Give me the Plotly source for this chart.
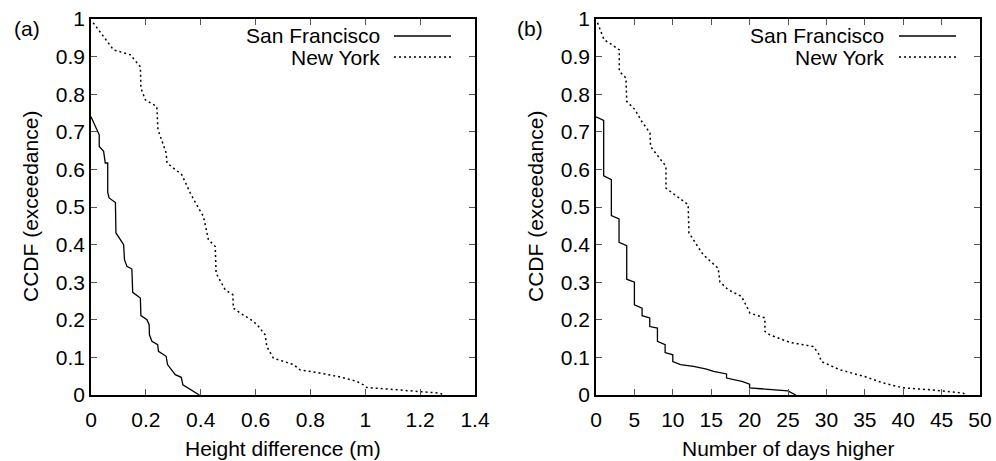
import plotly.graph_objects as go

# ---- data ----
# (a) Height difference (m)
sf_height_x = [0.0, 0.030, 0.030, 0.046, 0.052, 0.061, 0.061, 0.066, 0.089, 0.091, 0.107, 0.119,
               0.122, 0.131, 0.149, 0.152, 0.180, 0.182, 0.204, 0.212, 0.213, 0.222, 0.243, 0.246,
               0.274, 0.279, 0.307, 0.329, 0.335, 0.362, 0.395]
sf_height_y = [0.740, 0.692, 0.661, 0.648, 0.617, 0.617, 0.539, 0.524, 0.512, 0.431, 0.413, 0.400,
               0.360, 0.342, 0.335, 0.273, 0.258, 0.211, 0.200, 0.187, 0.160, 0.143, 0.134, 0.116,
               0.103, 0.081, 0.054, 0.047, 0.027, 0.014, 0.0]
ny_height_x = [0.008, 0.082, 0.143, 0.180, 0.182, 0.198, 0.240, 0.244, 0.274, 0.277, 0.331, 0.362,
               0.392, 0.410, 0.428, 0.453, 0.456, 0.489, 0.517, 0.519, 0.544, 0.592, 0.611, 0.635,
               0.641, 0.665, 0.738, 0.762, 0.823, 0.908, 0.969, 0.993, 1.005, 1.126, 1.199, 1.272, 1.284]
ny_height_y = [0.990, 0.918, 0.905, 0.873, 0.816, 0.785, 0.767, 0.706, 0.644, 0.617, 0.586, 0.537,
               0.497, 0.475, 0.413, 0.395, 0.324, 0.280, 0.267, 0.231, 0.218, 0.196, 0.182, 0.160,
               0.129, 0.098, 0.081, 0.067, 0.060, 0.048, 0.036, 0.027, 0.020, 0.014, 0.010, 0.005, 0.0]

# (b) Number of days higher
sf_days_x = [0, 1, 1, 2, 2, 3, 3, 4, 4, 5, 5, 6, 6, 7, 7, 8, 8, 9, 9, 10, 10, 11, 12.7, 14.4,
             15.3, 17, 17, 19, 20, 20, 25, 26]
sf_days_y = [0.740, 0.730, 0.583, 0.573, 0.477, 0.468, 0.406, 0.397, 0.308, 0.300, 0.240, 0.231,
             0.211, 0.205, 0.182, 0.178, 0.143, 0.134, 0.113, 0.107, 0.089, 0.081, 0.076, 0.069,
             0.063, 0.056, 0.045, 0.036, 0.029, 0.019, 0.011, 0.0]
ny_days_x = [0.2, 1.04, 2.04, 3.03, 3.03, 3.9, 4.0, 5.07, 5.94, 7.03, 7.1, 8.11, 9.11, 9.11, 12.0,
             12.1, 13.96, 15.91, 16.13, 17.21, 18.96, 20.04, 21.99, 22.0, 22.64, 25.24, 28.27, 28.93,
             29.36, 31.75, 35.0, 37.39, 39.99, 43.46, 45.63, 47.8, 48.2]
ny_days_y = [0.990, 0.945, 0.932, 0.918, 0.861, 0.843, 0.781, 0.759, 0.728, 0.697, 0.661, 0.635,
             0.608, 0.550, 0.506, 0.431, 0.373, 0.337, 0.301, 0.280, 0.262, 0.218, 0.205, 0.169,
             0.160, 0.140, 0.129, 0.112, 0.089, 0.067, 0.049, 0.032, 0.019, 0.014, 0.010, 0.005, 0.0]

series_names = ["San Francisco", "New York"]
y_ticks = [0, 0.1, 0.2, 0.3, 0.4, 0.5, 0.6, 0.7, 0.8, 0.9, 1]
y_ticktext = ["0", "0.1", "0.2", "0.3", "0.4", "0.5", "0.6", "0.7", "0.8", "0.9", "1"]
xa_ticks = [0, 0.2, 0.4, 0.6, 0.8, 1.0, 1.2, 1.4]
xa_ticktext = ["0", "0.2", "0.4", "0.6", "0.8", "1", "1.2", "1.4"]
xb_ticks = [0, 5, 10, 15, 20, 25, 30, 35, 40, 45, 50]
xb_ticktext = ["0", "5", "10", "15", "20", "25", "30", "35", "40", "45", "50"]

W, H = 996, 461
FONT = "Liberation Sans, Arial, Helvetica, sans-serif"
FS = 21

fig = go.Figure()
solid = dict(color="black", width=1.3)
dotted = dict(color="black", width=1.5, dash="2px,3px")

fig.add_trace(go.Scatter(x=sf_height_x, y=sf_height_y, mode="lines", line=solid,
                         name=series_names[0], xaxis="x", yaxis="y", showlegend=False))
fig.add_trace(go.Scatter(x=ny_height_x, y=ny_height_y, mode="lines", line=dotted,
                         name=series_names[1], xaxis="x", yaxis="y", showlegend=False))
fig.add_trace(go.Scatter(x=sf_days_x, y=sf_days_y, mode="lines", line=solid,
                         name=series_names[0], xaxis="x2", yaxis="y2", showlegend=False))
fig.add_trace(go.Scatter(x=ny_days_x, y=ny_days_y, mode="lines", line=dotted,
                         name=series_names[1], xaxis="x2", yaxis="y2", showlegend=False))

def px_x(p):
    return p / W

def px_y(p):
    return 1 - p / H

ax_common = dict(showline=True, linecolor="black", linewidth=1.5, mirror="ticks",
                 ticks="inside", ticklen=6, tickwidth=1, tickcolor="#555",
                 showgrid=False, zeroline=False, automargin=False,
                 tickfont=dict(family=FONT, size=FS, color="black"))

fig.update_layout(
    width=W, height=H,
    margin=dict(l=0, r=0, t=0, b=0),
    paper_bgcolor="white", plot_bgcolor="white",
    font=dict(family=FONT, size=FS, color="black"),
    xaxis=dict(domain=[px_x(91), px_x(475)], range=[0, 1.4], anchor="y",
               tickvals=xa_ticks, ticktext=xa_ticktext, ticklabelstandoff=5, **ax_common),
    yaxis=dict(domain=[px_y(395), px_y(19)], range=[0, 1], anchor="x",
               tickvals=y_ticks, ticktext=y_ticktext, **ax_common),
    xaxis2=dict(domain=[px_x(596), px_x(980)], range=[0, 50], anchor="y2",
                tickvals=xb_ticks, ticktext=xb_ticktext, ticklabelstandoff=5, **ax_common),
    yaxis2=dict(domain=[px_y(395), px_y(19)], range=[0, 1], anchor="x2",
                tickvals=y_ticks, ticktext=y_ticktext, **ax_common),
    showlegend=False,
)

annotations = []
shapes = []

def text(x, y, s, xanchor="center", textangle=0):
    annotations.append(dict(x=px_x(x), y=px_y(y), xref="paper", yref="paper", text=s,
                            showarrow=False, xanchor=xanchor, yanchor="middle",
                            textangle=textangle, font=dict(family=FONT, size=FS, color="black")))

# axis titles and panel labels
text(283, 448, "Height difference (m)")
text(788, 448, "Number of days higher")
text(30, 207, "CCDF (exceedance)", textangle=-90)
text(535, 207, "CCDF (exceedance)", textangle=-90)
text(27, 28, "(a)")
text(530, 29, "(b)")

# legends (text on left, sample on right)
for (tx, lx0, lx1) in [(382, 394, 451), (886, 899, 956)]:
    text(tx, 36, series_names[0], xanchor="right")
    text(tx, 57, series_names[1], xanchor="right")
    shapes.append(dict(type="line", xref="paper", yref="paper", x0=px_x(lx0), x1=px_x(lx1),
                       y0=px_y(36), y1=px_y(36), line=solid))
    shapes.append(dict(type="line", xref="paper", yref="paper", x0=px_x(lx0), x1=px_x(lx1),
                       y0=px_y(57), y1=px_y(57), line=dotted))

fig.update_layout(annotations=annotations, shapes=shapes)
fig.write_html("out.html", config={"displayModeBar": False},
               post_script="document.body.style.margin='0';document.body.style.overflow='hidden';")
